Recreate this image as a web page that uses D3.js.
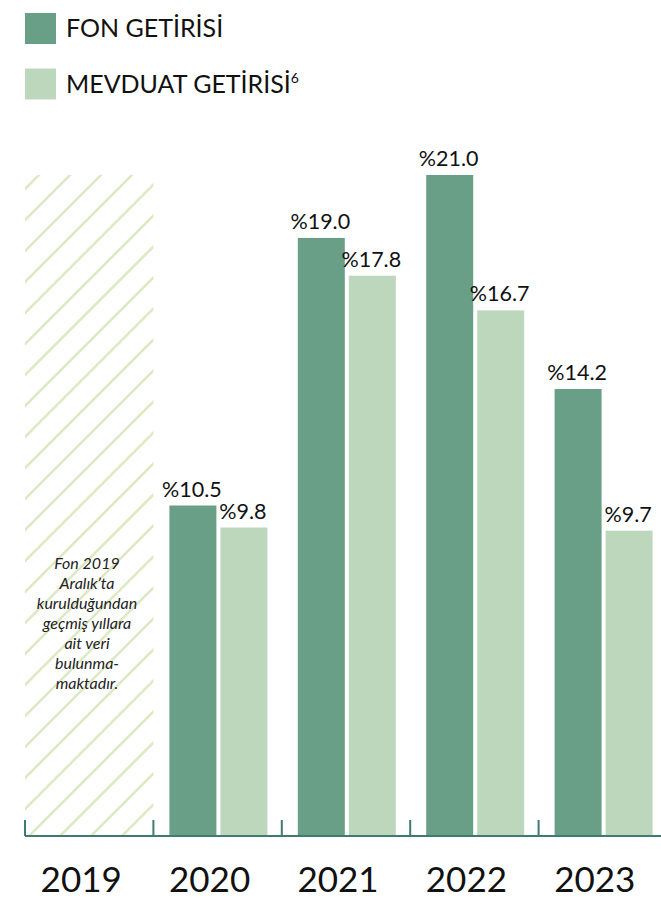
<!DOCTYPE html>
<html><head><meta charset="utf-8">
<script src="https://cdn.jsdelivr.net/npm/d3@7"></script>
<style>html,body{margin:0;padding:0;background:#fff;}svg{display:block;}</style>
</head><body>
<script>
const years = ["2019","2020","2021","2022","2023"];
const seriesNames = ["FON GETİRİSİ","MEVDUAT GETİRİSİ"];
const fonValues = [null, 10.5, 19.0, 21.0, 14.2];
const mevduatValues = [null, 9.8, 17.8, 16.7, 9.7];
const yMax = 21.0;
const noteLines = ["Fon 2019","Aralık’ta","kurulduğundan","geçmiş yıllara","ait veri","bulunma-","maktadır."];
const colors = ["#6a9f87","#bdd7bc"];
const FONT = "Lato, 'Open Sans', sans-serif";

const W = 661, H = 904;
const svg = d3.select("body").append("svg").attr("width", W).attr("height", H);
const defs = svg.append("defs");
const pat = defs.append("pattern").attr("id","hatch").attr("patternUnits","userSpaceOnUse")
  .attr("width",31).attr("height",31).attr("x",25).attr("y",3);
pat.append("path").attr("d","M-2,2 l4,-4 M0,31 L31,0 M29,33 l4,-4")
  .attr("stroke","#dde9c2").attr("stroke-width",2.6);

const x = d3.scaleBand().domain(years).range([25, 25 + 5*128.4]).padding(0);
const inner = d3.scaleBand().domain([0,1]).range([16,114]).paddingInner(0.0784).paddingOuter(0);
const y = d3.scaleLinear().domain([0, yMax]).range([836, 175]);

// hatched 2019 area
svg.append("rect").attr("x", x("2019")).attr("y", y(yMax))
  .attr("width", x.bandwidth()).attr("height", y(0) - y(yMax)).attr("fill","url(#hatch)");

// note text
const note = svg.append("text").attr("font-family", FONT).attr("font-style","italic")
  .attr("font-size",16).attr("fill","#222").attr("text-anchor","middle");
noteLines.forEach((t,i)=>{
  note.append("tspan").attr("x", x("2019") + 62).attr("y", 569 + i*20).text(t);
});

// bars
const data = [];
years.forEach((yr,i)=>{
  [fonValues[i], mevduatValues[i]].forEach((v,s)=>{ if(v!=null) data.push({yr, s, v}); });
});
svg.selectAll("rect.bar").data(data).join("rect").attr("class","bar")
  .attr("x", d=>x(d.yr)+inner(d.s)).attr("y", d=>y(d.v))
  .attr("width", inner.bandwidth()).attr("height", d=>y(0)-y(d.v))
  .attr("fill", d=>colors[d.s]);
svg.selectAll("text.val").data(data).join("text").attr("class","val")
  .attr("x", d=>x(d.yr)+inner(d.s)+inner.bandwidth()/2 - 1).attr("y", d=>y(d.v)-9)
  .attr("text-anchor","middle").attr("font-family",FONT).attr("font-size",21.5).attr("fill","#111")
  .text(d=>"%"+d.v.toFixed(1));

// axis
const axisColor = "#3f7b70";
svg.append("line").attr("x1",25).attr("x2",W).attr("y1",y(0)).attr("y2",y(0))
  .attr("stroke",axisColor).attr("stroke-width",2);
years.forEach(yr=>{
  svg.append("line").attr("x1",x(yr)).attr("x2",x(yr)).attr("y1",y(0)).attr("y2",y(0)-16)
    .attr("stroke",axisColor).attr("stroke-width",2);
});
svg.selectAll("text.yr").data(years).join("text").attr("class","yr")
  .attr("x", d=>x(d)+x.bandwidth()/2-8).attr("y",892)
  .attr("text-anchor","middle").attr("font-family",FONT).attr("font-size",35).attr("fill","#111")
  .text(d=>d);

// legend
const leg = svg.append("g");
seriesNames.forEach((n,i)=>{
  const yy = 13 + i*55.5;
  leg.append("rect").attr("x",25).attr("y",yy).attr("width",31).attr("height",31).attr("fill",colors[i]);
  const t = leg.append("text").attr("x",66).attr("y",yy+24).attr("font-family",FONT)
    .attr("font-size",25).attr("fill","#111").text(n);
  if(i===1) t.append("tspan").attr("font-size",14).attr("dy",-10).text("6");
});
</script>
</body></html>
